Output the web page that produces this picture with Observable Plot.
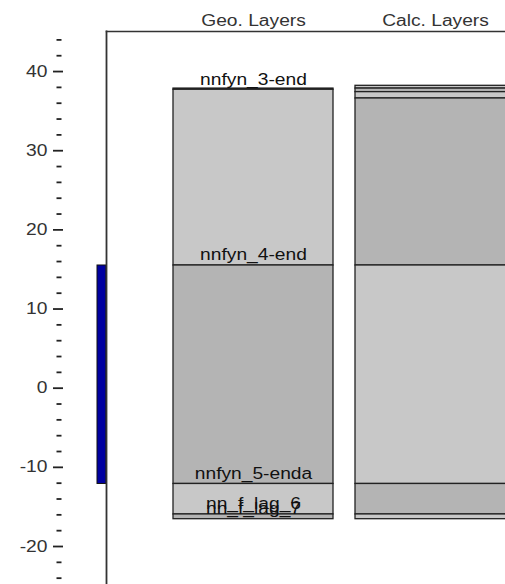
<!DOCTYPE html>
<html><head><meta charset="utf-8">
<script src="https://cdn.jsdelivr.net/npm/d3@7"></script>
<script src="https://cdn.jsdelivr.net/npm/@observablehq/plot@0.6"></script>
<style>body{margin:0;background:#fff}svg{display:block}</style>
</head><body><div id="chart"></div>
<script>
// ---- data ----
const columns = ["Geo. Layers", "Calc. Layers"];
const geoNames = ["nnfyn_3-end", "nnfyn_4-end", "nnfyn_5-enda", "nn_f_lag_6", "nn_f_lag_7"];
const geoTop = [37.85, 37.7, 15.5, -12.1, -15.95];
const geoBottom = [37.7, 15.5, -12.1, -15.95, -16.55];
const calcTop = [38.2, 37.85, 37.4, 36.6, 15.5, -12.1, -15.95];
const calcBottom = [37.85, 37.4, 36.6, 15.5, -12.1, -15.95, -16.55];
const screenTop = [15.5];
const screenBottom = [-12.1];
const majorTicks = [-20, -10, 0, 10, 20, 30, 40];
const minorTicks = [-24, -22, -18, -16, -14, -12, -8, -6, -4, -2, 2, 4, 6, 8, 12, 14, 16, 18, 22, 24, 26, 28, 32, 34, 36, 38, 42, 44];

// ---- tables ----
const geo = geoNames.map((name, i) => ({column: columns[0], name, top: geoTop[i], bottom: geoBottom[i], shade: i % 2 === 0 ? "dark" : "light"}));
const calc = calcTop.map((t, i) => ({column: columns[1], top: t, bottom: calcBottom[i], shade: i % 2 === 0 ? "light" : "dark"}));
const screen = screenTop.map((t, i) => ({top: t, bottom: screenBottom[i]}));

const W = 505, H = 584, ML = 106, MT = 31;
const chart = Plot.plot({
  width: W, height: H,
  marginLeft: ML, marginTop: MT, marginRight: 0, marginBottom: 0,
  style: {fontFamily: "'Liberation Sans', Arial, sans-serif", fontSize: "16px", color: "#222", background: "#fff", overflow: "hidden"},
  x: {type: "band", domain: columns, range: [ML, 582], paddingInner: 0.121, paddingOuter: 0.368, axis: null},
  y: {domain: [-24.8, 45.06]},
  color: {domain: ["light", "dark"], range: ["#c8c8c8", "#b4b4b4"]},
  marks: [
    Plot.barY(geo, {x: "column", y1: "top", y2: "bottom", fill: "shade", stroke: "#222", strokeWidth: 1.3}),
    Plot.barY(calc, {x: "column", y1: "top", y2: "bottom", fill: "shade", stroke: "#222", strokeWidth: 1.3}),
    Plot.rect(screen, {y1: "top", y2: "bottom", fill: "#0000a0", stroke: "#111", strokeWidth: 1, insetLeft: -9, insetRight: W - ML}),
    Plot.frame({anchor: "left", stroke: "#333", strokeWidth: 1.8}),
    Plot.frame({anchor: "top", stroke: "#333", strokeWidth: 1.5}),
    Plot.axisY(majorTicks, {tickSize: 10, tickPadding: 6, dx: -43, tickFormat: d => String(d), label: null, stroke: "#222", strokeWidth: 1.8, fill: "#333"}),
    Plot.axisY(minorTicks, {tickSize: 5, dx: -44.5, label: null, stroke: "#222", strokeWidth: 1.8, fill: "none"}),
    Plot.text(columns, {x: d => d, frameAnchor: "top", lineAnchor: "bottom", dy: -6, fill: "#333"}),
    Plot.text(geo, {x: "column", y: "bottom", text: "name", lineAnchor: "bottom", dy: -5, fill: "#111"})
  ]
});
document.getElementById("chart").append(chart);
// widen glyphs like the reference rendering
chart.querySelectorAll("text").forEach(t => {
  const L = t.getComputedTextLength();
  if (L > 0) {
    t.setAttribute("textLength", (L * 1.2).toFixed(1));
    t.setAttribute("lengthAdjust", "spacingAndGlyphs");
  }
});
</script>
</body></html>
